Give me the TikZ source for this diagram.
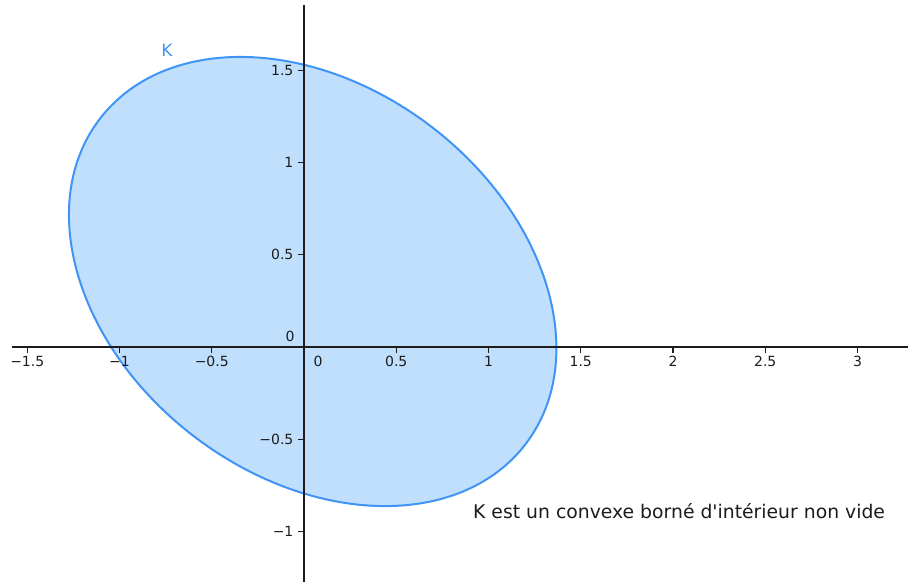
\documentclass[tikz,border=0pt]{standalone}
\usepackage{fontspec}
\setmainfont{DejaVu Sans}[Ligatures=TeXOff]
\usepackage{tikz}
\usetikzlibrary{calc}
\usepackage{xcolor}
\definecolor{kline}{RGB}{64,148,246}
\definecolor{kfill}{RGB}{191,223,253}
\definecolor{axisgray}{RGB}{28,28,28}

\begin{document}
\begin{tikzpicture}[x=184.5pt, y=184.5pt,
    ticklabel/.style={font=\fontsize{14}{16}\selectfont, text=axisgray, inner sep=0pt}]

    % ==========================================
    % DEFINE PARAMETERS & COORDINATES
    % ==========================================

    % Ellipse K: centre, half axes, tilt of the long axis
    \def\radK{1.452}
    \def\radk{1.0575}
    \def\tiltK{-37.3}
    \coordinate (C) at (0.047, 0.355);

    % Ends of the two axes
    \coordinate (X_left)  at (-1.583, 0);
    \coordinate (X_right) at (3.274, 0);
    \coordinate (Y_bottom) at (0, -1.274);
    \coordinate (Y_top)    at (0, 1.854);

    % Fix the frame
    \useasboundingbox (-1.6477, -1.2737) rectangle (3.2846, 1.8808);

    % ==========================================
    % DRAW THE CONVEX SET K
    % ==========================================

    \filldraw[fill=kfill, draw=kline, line width=2pt, rotate around={\tiltK:(C)}]
        (C) ellipse [x radius=\radK, y radius=\radk];

    \node[text=kline, font=\fontsize{17}{19}\selectfont] (labK) at (-0.7425, 1.61) {K};

    % ==========================================
    % DRAW AXES & TICKS
    % ==========================================

    \draw[axisgray, line width=1.5pt] (X_left) -- (X_right);
    \draw[axisgray, line width=1.5pt] (Y_bottom) -- (Y_top);

    % ticks on the x-axis
    \foreach \xv/\xl in {-1.5/−1.5, -1/−1, -0.5/−0.5, 0.5/0.5, 1/1, 1.5/1.5, 2/2, 2.5/2.5, 3/3}
        \draw[axisgray, line width=1.2pt] (\xv, 0) -- ++(0, -6pt)
            node[ticklabel, below=3pt] (xt\xv) {\xl};

    % ticks on the y-axis
    \foreach \yv/\yl in {-1/−1, -0.5/−0.5, 0.5/0.5, 1/1, 1.5/1.5}
        \draw[axisgray, line width=1.2pt] (0, \yv) -- ++(-6pt, 0)
            node[ticklabel, left=4pt] (yt\yv) {\yl};

    % the two zeros at the origin
    \node[ticklabel] (zeroY) at ($(0,0) + (-14pt, 11pt)$) {0};
    \node[ticklabel] (zeroX) at ($(0,0) + (14pt, -14pt)$) {0};

    % ==========================================
    % CAPTION
    % ==========================================

    \node[anchor=west, inner sep=0pt, text=axisgray, font=\fontsize{18.8}{20}\selectfont]
        (caption) at (0.916, -0.889) {K est un convexe borné d'intérieur non vide};

\end{tikzpicture}
\end{document}
